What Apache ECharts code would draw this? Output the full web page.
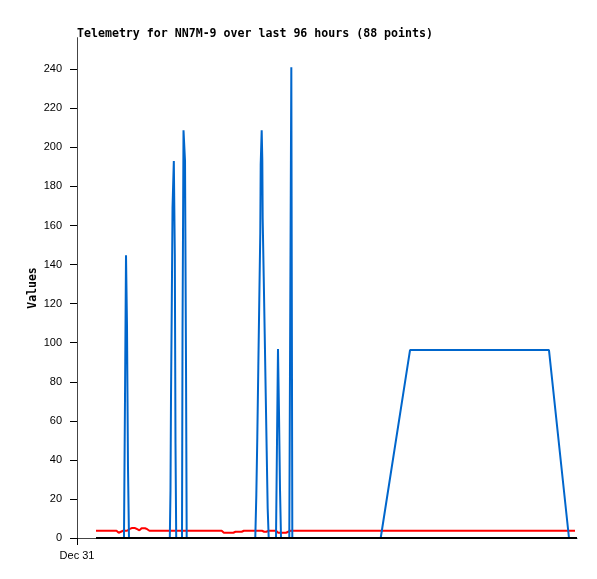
<!DOCTYPE html>
<html>
<head>
<meta charset="utf-8">
<script src="https://cdn.jsdelivr.net/npm/echarts@6/dist/echarts.min.js"></script>
<style>html,body{margin:0;padding:0;background:#fff;}#c{width:597px;height:579px;}</style>
</head>
<body>
<div id="c"></div>
<script>
// Hours since start of axis (Dec 31) and values
const blueHours = [3.65, 9.02, 9.22, 9.41, 9.6, 9.79, 9.98,
  17.82, 17.95, 18.05, 18.2, 18.34, 18.59, 18.78, 18.91, 19.05,
  20.16, 20.26, 20.45, 20.74, 20.93, 21.06,
  34.23, 34.43, 34.62, 34.81, 35.0, 35.19, 35.27, 35.46, 35.58, 35.65, 35.85, 36.04, 36.23, 36.42, 36.61, 36.81,
  38.21, 38.4, 38.59, 38.78, 38.98, 39.17,
  40.76, 40.95, 41.15, 41.34,
  58.31, 63.94, 90.62, 94.46];
const blueValues = [0, 0, 72.7, 144.8, 108.5, 36.2, 0,
  0, 24.5, 72.6, 120.6, 169, 193, 145, 48.5, 0,
  0, 104.4, 208.8, 193, 88.5, 0,
  0, 22, 51.8, 87.2, 121.8, 156.4, 191.2, 208.8, 193.4, 163.6, 133.7, 104.4, 74.4, 44.7, 15.2, 0,
  0, 48.8, 96.7, 64.6, 24.6, 0,
  0, 120.6, 241, 0,
  0, 96.2, 96.2, 0];
const redHours = [3.65, 7.58, 8.01, 8.43, 8.85, 9.6, 10.04, 10.5, 11.14, 11.56, 11.98, 12.4, 13.06, 13.48, 13.9,
  27.78, 28.2, 30.01, 30.43, 31.62, 32.04,
  35.52, 35.94, 36.36, 36.79,
  38.21, 38.63, 40.13, 40.55, 40.97, 95.62];
const redValues = [3.7, 3.7, 2.7, 3.2, 3.7, 3.7, 4.5, 5.1, 5.1, 4.5, 3.9, 5.0, 5.0, 4.5, 3.7,
  3.7, 2.7, 2.7, 3.2, 3.2, 3.7,
  3.7, 3.2, 3.2, 3.7,
  3.7, 2.7, 2.7, 3.2, 3.7, 3.7];
const blackHours = [3.65, 96.0];
const blackValues = [0, 0];
const yTicks = [0, 20, 40, 60, 80, 100, 120, 140, 160, 180, 200, 220, 240];
const xLabel = 'Dec 31';

const pair = (xs, ys) => xs.map((x, i) => [x, ys[i]]);
const chart = echarts.init(document.getElementById('c'), null, {renderer: 'canvas'});
const labelFont = {color: '#000', fontFamily: 'Liberation Sans', fontSize: 11};
chart.setOption({
  animation: false,
  backgroundColor: '#fff',
  title: {
    text: 'Telemetry for NN7M-9 over last 96 hours (88 points)',
    left: 77, top: 28, padding: 0,
    textStyle: {fontFamily: 'DejaVu Sans Mono', fontWeight: 'bold', fontSize: 11.6, color: '#000'}
  },
  grid: {left: 77, right: 20, top: 38, bottom: 41, containLabel: false},
  xAxis: [{
    type: 'value', min: 0, max: 96, position: 'bottom',
    splitLine: {show: false},
    axisLine: {show: false},
    axisTick: {show: true, customValues: [0], length: 7, lineStyle: {color: '#000', width: 1}},
    axisLabel: Object.assign({customValues: [0], formatter: () => xLabel, margin: 12}, labelFont)
  }, {
    type: 'value', min: 0, max: 96, position: 'top',
    splitLine: {show: false},
    axisLine: {show: true, lineStyle: {color: '#444', width: 1}},
    axisTick: {show: false}, axisLabel: {show: false}
  }],
  yAxis: [{
    type: 'value', min: 0, max: 256, interval: 20, position: 'left',
    name: 'Values', nameLocation: 'middle', nameGap: 38, nameRotate: 90, nameMoveOverlap: false,
    nameTextStyle: {fontFamily: 'DejaVu Sans Mono', fontWeight: 'bold', fontSize: 11.5, color: '#000'},
    splitLine: {show: false},
    axisLine: {show: true, lineStyle: {color: '#000', width: 1}},
    axisTick: {show: true, customValues: yTicks, length: 7, lineStyle: {color: '#000'}},
    axisLabel: Object.assign({customValues: yTicks, margin: 15}, labelFont)
  }, {
    type: 'value', min: 0, max: 256, position: 'right',
    splitLine: {show: false},
    axisLine: {show: true, lineStyle: {color: '#444', width: 1}},
    axisTick: {show: false}, axisLabel: {show: false}
  }],
  series: [{
    type: 'line', name: 'red', data: pair(redHours, redValues), showSymbol: false, z: 2,
    lineStyle: {color: '#ff0000', width: 2}
  }, {
    type: 'line', name: 'blue', data: pair(blueHours, blueValues), showSymbol: false, z: 3,
    lineStyle: {color: '#0066cc', width: 2}
  }, {
    type: 'line', name: 'black', data: pair(blackHours, blackValues), showSymbol: false, z: 4,
    lineStyle: {color: '#000', width: 2}
  }]
});
</script>
</body>
</html>
